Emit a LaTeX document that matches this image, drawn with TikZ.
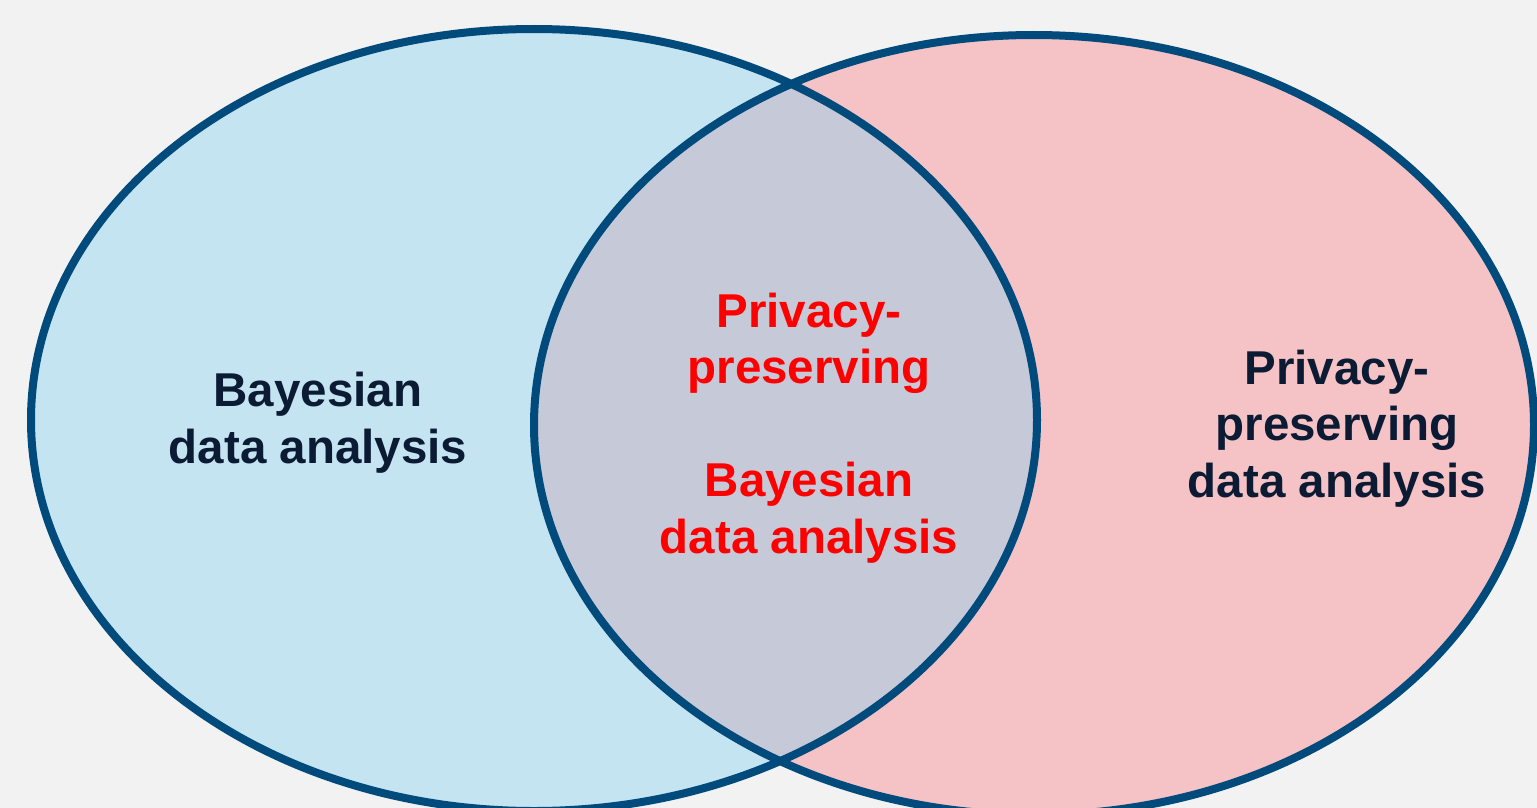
\documentclass[tikz,border=0pt]{standalone}
\usepackage{fontspec}
\setmainfont{Liberation Sans}
\usepackage{xcolor}
\definecolor{backgray}{HTML}{F2F2F2}
\definecolor{bayesblue}{HTML}{C5E4F1}
\definecolor{privacypink}{HTML}{F5C2C5}
\definecolor{overlapgray}{HTML}{C6C9D7}
\definecolor{setline}{HTML}{004B7C}
\definecolor{labelnavy}{HTML}{0B1B33}
\tikzset{
    venn-set/.style = {draw=setline, line width=8pt},
    venn-label/.style = {font=\fontsize{47.5}{56.5}\selectfont\bfseries, align=center, inner sep=0pt, text=labelnavy, anchor=base},
    venn-overlap-label/.style = {venn-label, text=red},
}

\begin{document}
\begin{tikzpicture}[x=1pt,y=-1pt]
\useasboundingbox[fill=backgray] (0,0) rectangle (1537,808);
% the two sets
\fill[bayesblue] (534,420) ellipse [x radius=503pt, y radius=391pt];
\fill[privacypink] (1034,425) ellipse [x radius=500pt, y radius=390pt];
\begin{scope}
    \clip (534,420) ellipse [x radius=503pt, y radius=391pt];
    \fill[overlapgray] (1034,425) ellipse [x radius=500pt, y radius=390pt];
\end{scope}
\draw[venn-set] (534,420) ellipse [x radius=503pt, y radius=391pt];
\draw[venn-set] (1034,425) ellipse [x radius=500pt, y radius=390pt];
% labels
\node[venn-label] (bayes) at (318,463) {Bayesian\\data analysis};
\node[venn-overlap-label] (both) at (809,553) {Privacy-\\preserving\\[56.5pt]Bayesian\\data analysis};
\node[venn-label] (privacy) at (1337,497) {Privacy-\\preserving\\data analysis};
\end{tikzpicture}
\end{document}
